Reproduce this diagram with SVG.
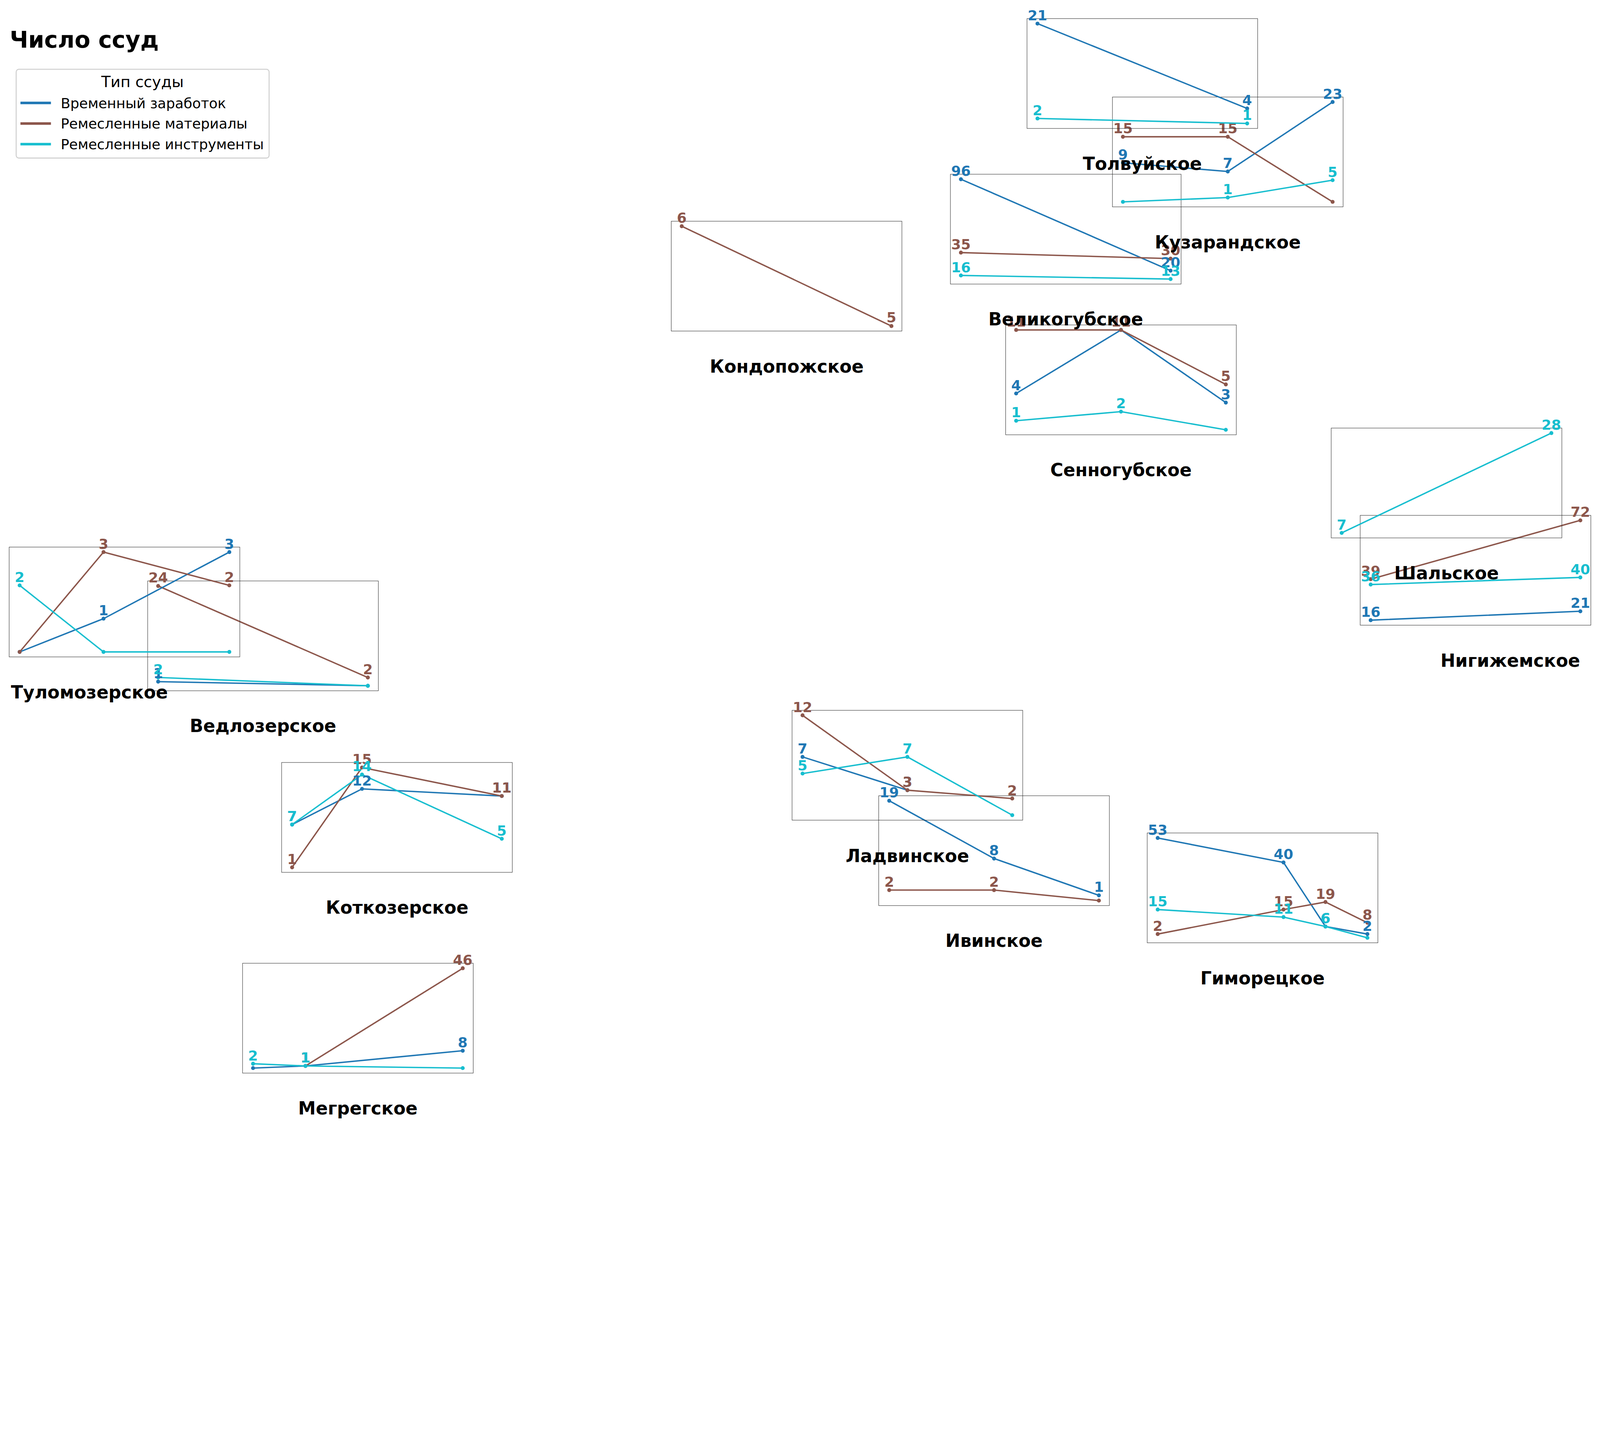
<svg xmlns="http://www.w3.org/2000/svg" width="5244" height="3694" viewBox="0 0 5244 3694" preserveAspectRatio="xMinYMin meet" style="width:100vw;height:100vh">
<defs>
<marker id="mb" viewBox="-7 -7 14 14" refX="0" refY="0" markerWidth="14" markerHeight="14" markerUnits="userSpaceOnUse"><circle r="6.5" fill="#1f77b4"/></marker>
<marker id="mr" viewBox="-7 -7 14 14" refX="0" refY="0" markerWidth="14" markerHeight="14" markerUnits="userSpaceOnUse"><circle r="6.5" fill="#8c564b"/></marker>
<marker id="mc" viewBox="-7 -7 14 14" refX="0" refY="0" markerWidth="14" markerHeight="14" markerUnits="userSpaceOnUse"><circle r="6.5" fill="#17becf"/></marker>
</defs>
<style>
text{font-family:"DejaVu Sans","Liberation Sans",sans-serif}
.ax{fill:none;stroke:#262626;stroke-width:1.3}
polyline{fill:none;stroke-width:4.6;stroke-linejoin:round;stroke-linecap:round}
polyline.b{stroke:#1f77b4;marker-start:url(#mb);marker-mid:url(#mb);marker-end:url(#mb)}
polyline.r{stroke:#8c564b;marker-start:url(#mr);marker-mid:url(#mr);marker-end:url(#mr)}
polyline.c{stroke:#17becf;marker-start:url(#mc);marker-mid:url(#mc);marker-end:url(#mc)}
text.v{font-weight:bold;font-size:46px;text-anchor:middle}
text.tb{fill:#1f77b4}
text.tr{fill:#8c564b}
text.tc{fill:#17becf}
text.nm{font-weight:bold;font-size:58px;text-anchor:middle;fill:#000}
.lg{stroke-width:8.3}
.lt{font-size:46px;fill:#000}
</style>
<rect width="5244" height="3694" fill="#fff"/>

<g id="title"><text x="32" y="156" style="font-weight:bold;font-size:75px" fill="#000">Число ссуд</text></g>

<g id="legend">
<rect x="53" y="227" width="829" height="291" rx="9" fill="#fff" fill-opacity="0.8" stroke="#d0d0d0" stroke-width="3.3"/>
<text x="467" y="285" style="font-size:50px;text-anchor:middle" fill="#000">Тип ссуды</text>
<line class="lg" x1="67" y1="337.5" x2="167" y2="337.5" stroke="#1f77b4"/>
<line class="lg" x1="67" y1="405" x2="167" y2="405" stroke="#8c564b"/>
<line class="lg" x1="67" y1="472.5" x2="167" y2="472.5" stroke="#17becf"/>
<text class="lt" x="199" y="354">Временный заработок</text>
<text class="lt" x="199" y="421.5">Ремесленные материалы</text>
<text class="lt" x="199" y="489">Ремесленные инструменты</text>
</g>

<g id="kondopozhskoe">
<rect class="ax" x="2200" y="725" width="756" height="360"/>
<polyline class="r" points="2234.4,741.4 2921.6,1068.6"/>
<text class="v tr" x="2234.4" y="729.4">6</text><text class="v tr" x="2921.6" y="1056.6">5</text>
<text class="nm" x="2578.5" y="1221">Кондопожское</text>
</g>

<g id="sennogubskoe">
<rect class="ax" x="3296" y="1065" width="756" height="360"/>
<polyline class="b" points="3330.4,1289.6 3674,1081.4 4017.6,1319.4"/>
<polyline class="r" points="3330.4,1081.4 3674,1081.4 4017.6,1259.9"/>
<polyline class="c" points="3330.4,1378.9 3674,1349.1 4017.6,1408.6"/>
<text class="v tb" x="3330.4" y="1278.6">4</text><text class="v tb" x="3674" y="1070.4">11</text><text class="v tb" x="4017.6" y="1308.4">3</text>
<text class="v tr" x="3330.4" y="1070.4">11</text><text class="v tr" x="3674" y="1070.4">11</text><text class="v tr" x="4017.6" y="1248.9">5</text>
<text class="v tc" x="3330.4" y="1367.9">1</text><text class="v tc" x="3674" y="1338.1">2</text>
<text class="nm" x="3674" y="1561">Сенногубское</text>
</g>

<g id="velikogubskoe">
<rect class="ax" x="3115" y="571" width="756" height="360"/>
<polyline class="b" points="3149.4,587.4 3836.6,887"/>
<polyline class="r" points="3149.4,827.9 3836.6,847.6"/>
<polyline class="c" points="3149.4,902.8 3836.6,914.6"/>
<text class="v tb" x="3149.4" y="576.4">96</text><text class="v tb" x="3836.6" y="876">20</text>
<text class="v tr" x="3149.4" y="816.9">35</text><text class="v tr" x="3836.6" y="836.6">30</text>
<text class="v tc" x="3149.4" y="891.8">16</text><text class="v tc" x="3836.6" y="903.6">13</text>
<text class="nm" x="3493" y="1067">Великогубское</text>
</g>

<g id="kuzarandskoe">
<rect class="ax" x="3646" y="318" width="756" height="360"/>
<polyline class="b" points="3680.4,533.6 4024,562 4367.6,334.4"/>
<polyline class="r" points="3680.4,448.2 4024,448.2 4367.6,661.6"/>
<polyline class="c" points="3680.4,661.6 4024,647.4 4367.6,590.5"/>
<text class="v tb" x="3680.4" y="522.6">9</text><text class="v tb" x="4024" y="551">7</text><text class="v tb" x="4367.6" y="323.4">23</text>
<text class="v tr" x="3680.4" y="437.2">15</text><text class="v tr" x="4024" y="437.2">15</text>
<text class="v tc" x="4024" y="636.4">1</text><text class="v tc" x="4367.6" y="579.5">5</text>
<text class="nm" x="4024" y="814">Кузарандское</text>
</g>

<g id="tolvuyskoe">
<rect class="ax" x="3366" y="61" width="756" height="360"/>
<polyline class="b" points="3400.4,77.4 4087.6,355.5"/>
<polyline class="c" points="3400.4,388.3 4087.6,404.6"/>
<text class="v tb" x="3400.4" y="66.4">21</text><text class="v tb" x="4087.6" y="344.5">4</text>
<text class="v tc" x="3400.4" y="377.3">2</text><text class="v tc" x="4087.6" y="393.6">1</text>
<text class="nm" x="3744" y="557">Толвуйское</text>
</g>

<g id="nigizhemskoe">
<rect class="ax" x="4458" y="1689" width="756" height="360"/>
<polyline class="b" points="4492.4,2032.6 5179.6,2003.4"/>
<polyline class="r" points="4492.4,1898.2 5179.6,1705.4"/>
<polyline class="c" points="4492.4,1915.8 5179.6,1892.4"/>
<text class="v tb" x="4492.4" y="2021.6">16</text><text class="v tb" x="5179.6" y="1992.4">21</text>
<text class="v tr" x="4492.4" y="1887.2">39</text><text class="v tr" x="5179.6" y="1694.4">72</text>
<text class="v tc" x="4492.4" y="1904.8">36</text><text class="v tc" x="5179.6" y="1881.4">40</text>
<text class="nm" x="4950" y="2185">Нигижемское</text>
</g>

<g id="shalskoe">
<rect class="ax" x="4363" y="1403" width="756" height="360"/>
<polyline class="c" points="4397.4,1746.6 5084.6,1419.4"/>
<text class="v tc" x="4397.4" y="1735.6">7</text><text class="v tc" x="5084.6" y="1408.4">28</text>
<text class="nm" x="4741" y="1899">Шальское</text>
</g>

<g id="vedlozerskoe">
<rect class="ax" x="484" y="1904" width="756" height="360"/>
<polyline class="b" points="518.4,2234 1205.6,2247.6"/>
<polyline class="r" points="518.4,1920.4 1205.6,2220.4"/>
<polyline class="c" points="518.4,2220.4 1205.6,2247.6"/>
<text class="v tb" x="518.4" y="2223">1</text>
<text class="v tr" x="518.4" y="1909.4">24</text><text class="v tr" x="1205.6" y="2209.4">2</text>
<text class="v tc" x="518.4" y="2209.4">2</text>
<text class="nm" x="862" y="2399">Ведлозерское</text>
</g>

<g id="tulomozerskoe">
<rect class="ax" x="30" y="1793" width="756" height="360"/>
<polyline class="b" points="64.4,2136.6 339.3,2027.6 751.6,1809.4"/>
<polyline class="r" points="64.4,2136.6 339.3,1809.4 751.6,1918.5"/>
<polyline class="c" points="64.4,1918.5 339.3,2136.6 751.6,2136.6"/>
<text class="v tb" x="339.3" y="2016.6">1</text><text class="v tb" x="751.6" y="1798.4">3</text>
<text class="v tr" x="339.3" y="1798.4">3</text><text class="v tr" x="751.6" y="1907.5">2</text>
<text class="v tc" x="64.4" y="1907.5">2</text>
<text class="nm" x="293" y="2289">Туломозерское</text>
</g>

<g id="kotkozerskoe">
<rect class="ax" x="923" y="2499" width="756" height="360"/>
<polyline class="b" points="957.4,2702.4 1186.5,2585.5 1644.6,2608.9"/>
<polyline class="r" points="957.4,2842.6 1186.5,2515.4 1644.6,2608.9"/>
<polyline class="c" points="957.4,2702.4 1186.5,2538.7 1644.6,2749.1"/>
<text class="v tb" x="957.4" y="2691.4">7</text><text class="v tb" x="1186.5" y="2574.5">12</text><text class="v tb" x="1644.6" y="2597.9">11</text>
<text class="v tr" x="957.4" y="2831.6">1</text><text class="v tr" x="1186.5" y="2504.4">15</text><text class="v tr" x="1644.6" y="2597.9">11</text>
<text class="v tc" x="957.4" y="2691.4">7</text><text class="v tc" x="1186.5" y="2527.7">14</text><text class="v tc" x="1644.6" y="2738.1">5</text>
<text class="nm" x="1301.5" y="2995">Коткозерское</text>
</g>

<g id="megregskoe">
<rect class="ax" x="795" y="3157" width="756" height="360"/>
<polyline class="b" points="829.4,3500.6 1001.2,3493.5 1516.6,3443.7"/>
<polyline class="r" points="1001.2,3493.5 1516.6,3173.4"/>
<polyline class="c" points="829.4,3486.4 1001.2,3493.5 1516.6,3500.6"/>
<text class="v tb" x="1001.2" y="3482.5">1</text><text class="v tb" x="1516.6" y="3432.7">8</text>
<text class="v tr" x="1001.2" y="3482.5">1</text><text class="v tr" x="1516.6" y="3162.4">46</text>
<text class="v tc" x="829.4" y="3475.4">2</text><text class="v tc" x="1001.2" y="3482.5">1</text>
<text class="nm" x="1173" y="3653">Мегрегское</text>
</g>

<g id="ivinskoe">
<rect class="ax" x="2880" y="2608" width="756" height="360"/>
<polyline class="b" points="2914.4,2624.4 3258,2813.8 3601.6,2934.4"/>
<polyline class="r" points="2914.4,2917.2 3258,2917.2 3601.6,2951.6"/>
<text class="v tb" x="2914.4" y="2613.4">19</text><text class="v tb" x="3258" y="2802.8">8</text><text class="v tb" x="3601.6" y="2923.4">1</text>
<text class="v tr" x="2914.4" y="2906.2">2</text><text class="v tr" x="3258" y="2906.2">2</text>
<text class="nm" x="3258" y="3104">Ивинское</text>
</g>

<g id="ladvinskoe">
<rect class="ax" x="2596" y="2328" width="756" height="360"/>
<polyline class="b" points="2630.4,2480.7 2974,2589.8"/>
<polyline class="r" points="2630.4,2344.4 2974,2589.8 3317.6,2617.1"/>
<polyline class="c" points="2630.4,2535.3 2974,2480.7 3317.6,2671.6"/>
<text class="v tb" x="2630.4" y="2469.7">7</text><text class="v tb" x="2974" y="2578.8">3</text>
<text class="v tr" x="2630.4" y="2333.4">12</text><text class="v tr" x="2974" y="2578.8">3</text><text class="v tr" x="3317.6" y="2606.1">2</text>
<text class="v tc" x="2630.4" y="2524.3">5</text><text class="v tc" x="2974" y="2469.7">7</text>
<text class="nm" x="2974" y="2825">Ладвинское</text>
</g>

<g id="gimoretskoe">
<rect class="ax" x="3760" y="2730" width="756" height="360"/>
<polyline class="b" points="3794.4,2746.4 4206.7,2826.6 4344.2,3036.6 4481.6,3061.3"/>
<polyline class="r" points="3794.4,3061.3 4206.7,2981 4344.2,2956.3 4481.6,3024.2"/>
<polyline class="c" points="3794.4,2981 4206.7,3005.7 4344.2,3036.6 4481.6,3073.6"/>
<text class="v tb" x="3794.4" y="2735.4">53</text><text class="v tb" x="4206.7" y="2815.6">40</text><text class="v tb" x="4344.2" y="3025.6">6</text><text class="v tb" x="4481.6" y="3050.3">2</text>
<text class="v tr" x="3794.4" y="3050.3">2</text><text class="v tr" x="4206.7" y="2970">15</text><text class="v tr" x="4344.2" y="2945.3">19</text><text class="v tr" x="4481.6" y="3013.2">8</text>
<text class="v tc" x="3794.4" y="2970">15</text><text class="v tc" x="4206.7" y="2994.7">11</text><text class="v tc" x="4344.2" y="3025.6">6</text>
<text class="nm" x="4138" y="3226">Гиморецкое</text>
</g>
</svg>
